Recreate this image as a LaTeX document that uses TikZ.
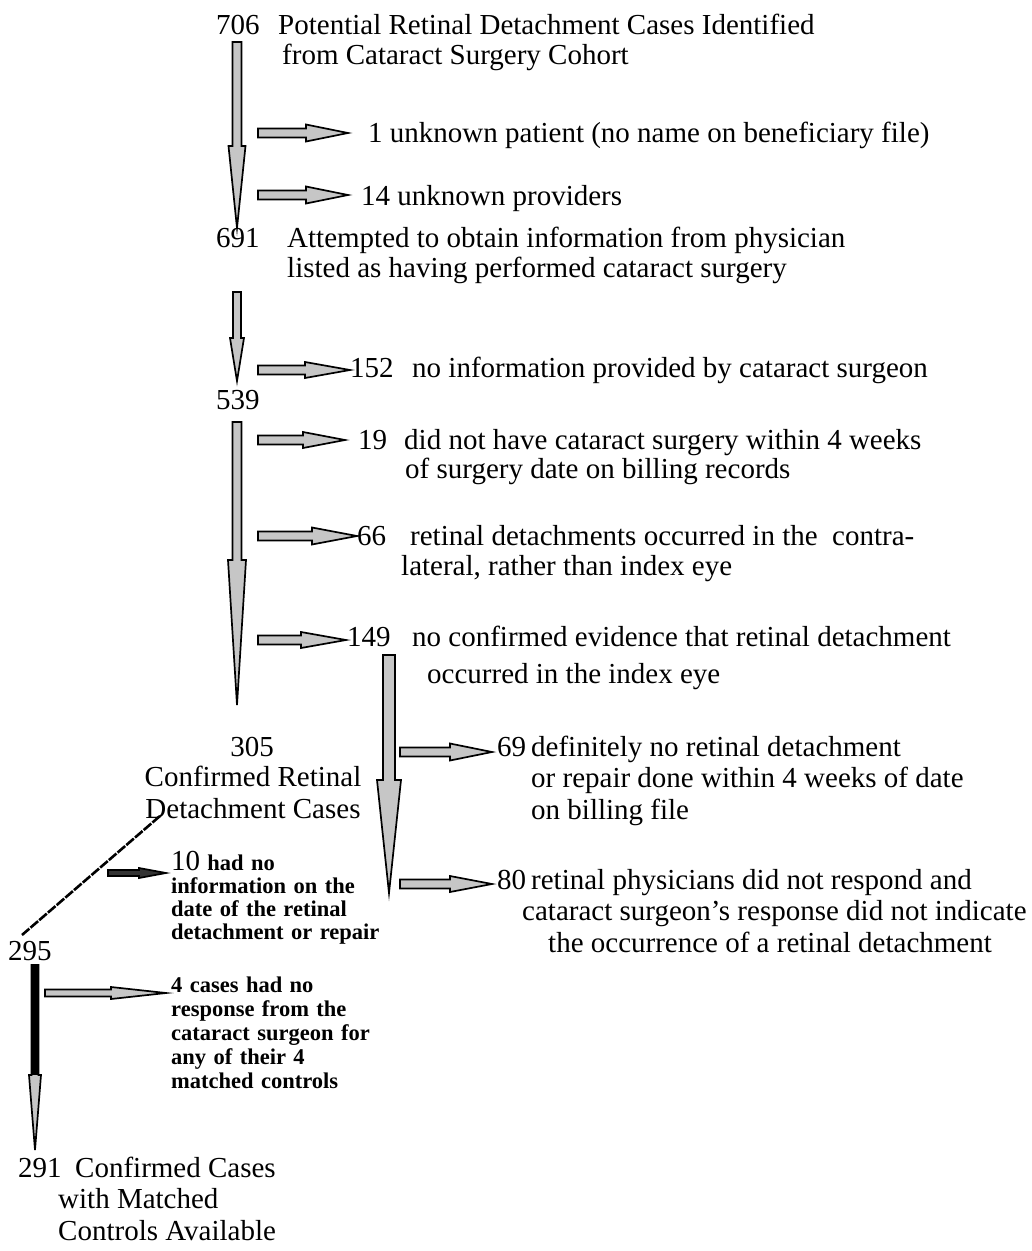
\documentclass[tikz,border=0pt]{standalone}
\usepackage{fontspec}
\setmainfont{Liberation Serif}
\usetikzlibrary{calc}
\newcommand\mainsz{\fontsize{29}{31}\selectfont}
\newcommand\smallsz{\fontsize{22.5}{24}\selectfont\bfseries\spaceskip=0.33em plus 0.1em\relax}
\tikzset{
  txt/.style={anchor=base west, inner sep=0pt, font=\mainsz},
  ctxt/.style={anchor=base, inner sep=0pt, font=\mainsz},
  stxt/.style={anchor=base west, inner sep=0pt, font=\smallsz},
  blockarrow/.style={draw=black, line width=1.7pt, fill=gray!45, line join=miter},
  darkarrow/.style={draw=black, line width=1.7pt, fill=black!80, line join=miter},
  diag/.style={line width=2.6pt, dash pattern=on 10pt off 1.5pt},
}
% horizontal block arrow from coordinate #2 to #3: shaft half #4, head half #5, head length #6
\newcommand\harrow[6][blockarrow]{%
  \filldraw[#1] let \p1=(#2), \p2=(#3) in
    (\x1,{\y1+#4}) -- ({\x2-#6},{\y1+#4}) -- ({\x2-#6},{\y1+#5}) -- (\x2,\y1)
    -- ({\x2-#6},{\y1-#5}) -- ({\x2-#6},{\y1-#4}) -- (\x1,{\y1-#4}) -- cycle;}
% vertical (downward) block arrow
\newcommand\varrow[6][blockarrow]{%
  \filldraw[#1] let \p1=(#2), \p2=(#3) in
    ({\x1-#4},\y1) -- ({\x1-#4},{\y2+#6}) -- ({\x1-#5},{\y2+#6}) -- (\x1,\y2)
    -- ({\x1+#5},{\y2+#6}) -- ({\x1+#4},{\y2+#6}) -- ({\x1+#4},\y1) -- cycle;}
\begin{document}
\begin{tikzpicture}[x=1pt,y=-1pt]
\useasboundingbox[fill=white] (0,0) rectangle (1032,1251);

% ---------- texts ----------
\node[txt] (n706) at (216,34) {706};
\node[txt] (t706a) at (278,34) {Potential Retinal Detachment Cases Identified};
\node[txt] (t706b) at (282,64) {from Cataract Surgery Cohort};
\node[txt] (t1) at (368,142) {1 unknown patient (no name on beneficiary file)};
\node[txt] (t14) at (361,205) {14 unknown providers};
\node[txt] (n691) at (216,247) {691};
\node[txt] (t691a) at (287,247) {Attempted to obtain information from physician};
\node[txt] (t691b) at (287,277) {listed as having performed cataract surgery};
\node[txt] (n152) at (350,377) {152};
\node[txt] (t152) at (412,377) {no information provided by cataract surgeon};
\node[txt] (n539) at (216,409) {539};
\node[txt] (n19) at (358,449) {19};
\node[txt] (t19a) at (404,449) {did not have cataract surgery within 4 weeks};
\node[txt] (t19b) at (405,478) {of surgery date on billing records};
\node[txt] (n66) at (357,545) {66};
\node[txt] (t66a) at (410,545) {retinal detachments occurred in the\ \ contra-};
\node[txt] (t66b) at (401,575) {lateral, rather than index eye};
\node[txt] (n149) at (347,646) {149};
\node[txt] (t149a) at (412,646) {no confirmed evidence that retinal detachment};
\node[txt] (t149b) at (427,683) {occurred in the index eye};
\node[ctxt] (n305) at (252,756) {305};
\node[ctxt] (t305a) at (253,786) {Confirmed Retinal};
\node[ctxt] (t305b) at (253,818) {Detachment Cases};
\node[txt] (n69) at (497,756) {69};
\node[txt] (t69a) at (531,756) {definitely no retinal detachment};
\node[txt] (t69b) at (531,787) {or repair done within 4 weeks of date};
\node[txt] (t69c) at (531,819) {on billing file};
\node[txt] (n80) at (497,889) {80};
\node[txt] (t80a) at (531,889) {retinal physicians did not respond and};
\node[txt] (t80b) at (522,920) {cataract surgeon’s response did not indicate};
\node[txt] (t80c) at (548,952) {the occurrence of a retinal detachment};
\node[txt] (t10a) at (171,870) {10 {\smallsz had no}};
\node[stxt] (t10b) at (171,893) {information on the};
\node[stxt] (t10c) at (171,916) {date of the retinal};
\node[stxt] (t10d) at (171,939) {detachment or repair};
\node[txt] (n295) at (8,960) {295};
\node[stxt] (t4a) at (171,992) {4 cases had no};
\node[stxt] (t4b) at (171,1016) {response from the};
\node[stxt] (t4c) at (171,1040) {cataract surgeon for};
\node[stxt] (t4d) at (171,1064) {any of their 4};
\node[stxt] (t4e) at (171,1088) {matched controls};
\node[txt] (n291) at (18,1177) {291};
\node[txt] (t291a) at (75,1177) {Confirmed Cases};
\node[txt] (t291b) at (58,1208) {with Matched};
\node[txt] (t291c) at (58,1240) {Controls Available};

% ---------- arrow end points ----------
\coordinate (v1s) at (237,42);   \coordinate (v1e) at (237,228);
\coordinate (v2s) at (237,292);  \coordinate (v2e) at (237,381);
\coordinate (v3s) at (237,422);  \coordinate (v3e) at (237,705);
\coordinate (v4s) at (389,655);  \coordinate (v4e) at (389,893);
\coordinate (v5s) at (35,965);   \coordinate (v5e) at (35,1150);
\coordinate (h1s) at (258,133);  \coordinate (h1e) at (348,133);
\coordinate (h2s) at (258,195);  \coordinate (h2e) at (348,195);
\coordinate (h3s) at (258,370);  \coordinate (h3e) at (350,370);
\coordinate (h4s) at (258,440);  \coordinate (h4e) at (345,440);
\coordinate (h5s) at (258,536);  \coordinate (h5e) at (357,536);
\coordinate (h6s) at (258,640);  \coordinate (h6e) at (346,640);
\coordinate (h7s) at (400,752);  \coordinate (h7e) at (492,752);
\coordinate (h8s) at (400,884);  \coordinate (h8e) at (492,884);
\coordinate (h9s) at (108,873);  \coordinate (h9e) at (166,873);
\coordinate (h10s) at (45,993);  \coordinate (h10e) at (166,993);
\coordinate (d1) at (160,816);   \coordinate (d2) at (22,935);

% ---------- vertical arrows ----------
\varrow{v1s}{v1e}{4.5pt}{8.5pt}{82pt}
\varrow{v2s}{v2e}{4pt}{7pt}{43pt}
\varrow{v3s}{v3e}{4.5pt}{9pt}{145pt}
\varrow{v4s}{v4e}{6pt}{12pt}{113pt}
\varrow{v5s}{v5e}{3.5pt}{6pt}{75pt}
\fill[black] (32,965) rectangle (38,1075);

% ---------- horizontal arrows ----------
\harrow{h1s}{h1e}{4.5pt}{8.5pt}{42pt}
\harrow{h2s}{h2e}{4.5pt}{8.5pt}{42pt}
\harrow{h3s}{h3e}{4.5pt}{8pt}{45pt}
\harrow{h4s}{h4e}{4.5pt}{8pt}{42pt}
\harrow{h5s}{h5e}{4.5pt}{8.5pt}{45pt}
\harrow{h6s}{h6e}{4.5pt}{8pt}{45pt}
\harrow{h7s}{h7e}{4.5pt}{8.5pt}{42pt}
\harrow{h8s}{h8e}{4.5pt}{8pt}{42pt}
\harrow[darkarrow]{h9s}{h9e}{3pt}{5pt}{27pt}
\harrow{h10s}{h10e}{3.5pt}{6pt}{55pt}

% ---------- diagonal link ----------
\draw[diag] (d1) -- (d2);
\end{tikzpicture}
\end{document}
